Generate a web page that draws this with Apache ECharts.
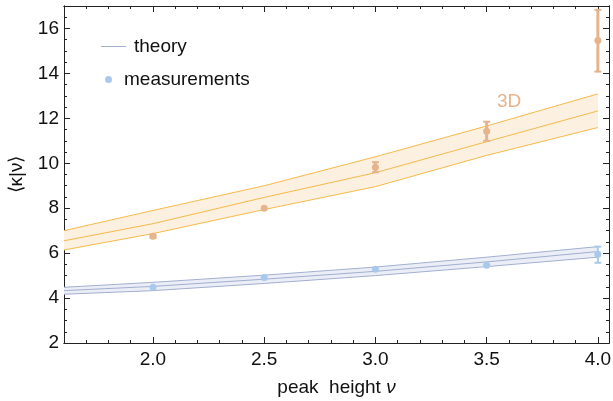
<!DOCTYPE html>
<html>
<head>
<meta charset="utf-8">
<script src="https://cdn.jsdelivr.net/npm/echarts@6/dist/echarts.min.js"></script>
<style>html,body{margin:0;padding:0;background:#fff}</style>
</head>
<body>
<div id="chart" style="width:613px;height:401px"></div>
<script>
// theory bands (x, lower / centre / upper)
const bandX = [1.6, 2.0, 2.5, 3.0, 3.5, 4.0]
const orangeLower = [6.14, 6.87, 7.94, 8.96, 10.35, 11.59]
const orangeCenter = [6.55, 7.31, 8.48, 9.58, 10.96, 12.33]
const orangeUpper = [7.0, 7.9, 9.0, 10.29, 11.66, 13.09]
const blueLower = [4.17, 4.33, 4.65, 5.0, 5.4, 5.82]
const blueCenter = [4.33, 4.52, 4.84, 5.19, 5.61, 6.07]
const blueUpper = [4.48, 4.7, 5.02, 5.38, 5.82, 6.29]

// measurements
const measX = [2.0, 2.5, 3.0, 3.5, 4.0]
const orangeMeas = [6.75, 8.0, 9.82, 11.43, 15.46]
const blueMeas = [4.48, 4.91, 5.28, 5.46, 5.95]
// error bars [x, low, high]
const orangeErr = [[2.0, 6.68, 6.82], [3.0, 9.6, 10.05], [3.5, 11.0, 11.85], [4.0, 14.08, 16.83]]
const blueErr = [[4.0, 5.57, 6.29]]

// ticks
const xMajor = [2.0, 2.5, 3.0, 3.5, 4.0]
const xMinor = [1.7, 1.8, 1.9, 2.1, 2.2, 2.3, 2.4, 2.6, 2.7, 2.8, 2.9, 3.1, 3.2, 3.3, 3.4, 3.6, 3.7, 3.8, 3.9]
const yMajor = [2, 4, 6, 8, 10, 12, 14, 16]
const yMinor = [2.5, 3, 3.5, 4.5, 5, 5.5, 6.5, 7, 7.5, 8.5, 9, 9.5, 10.5, 11, 11.5, 12.5, 13, 13.5, 14.5, 15, 15.5, 16.5]

const ORANGE_LINE = '#f6b94a'
const ORANGE_FILL = '#fcf1e0'
const ORANGE_DOT = '#e5b48d'
const BLUE_LINE = '#a3afd0'
const BLUE_FILL = '#ebeef7'
const BLUE_DOT = '#a8c9ec'
const FONT = 'Liberation Sans, Arial, sans-serif'

const zip = (xs, ys) => xs.map((x, i) => [x, ys[i]])

const chart = echarts.init(document.getElementById('chart'))

const xBase = { type: 'value', min: 1.6, max: 4.05, splitLine: { show: false } }
const yBase = { type: 'value', min: 2, max: 17, splitLine: { show: false } }

const makeX = (position, values, len, labels) => ({
  ...xBase,
  position,
  axisLine: { show: true, lineStyle: { color: '#222', width: 1 } },
  axisTick: { show: true, inside: true, length: len, customValues: values, lineStyle: { color: '#222' } },
  axisLabel: labels
    ? { show: true, customValues: values, margin: 7, color: '#111', fontSize: 19, fontFamily: FONT, formatter: v => v.toFixed(1) }
    : { show: false }
})
const makeY = (position, values, len, labels) => ({
  ...yBase,
  position,
  axisLine: { show: true, lineStyle: { color: '#222', width: 1 } },
  axisTick: { show: true, inside: true, length: len, customValues: values, lineStyle: { color: '#222' } },
  axisLabel: labels
    ? { show: true, customValues: values, margin: 5, color: '#111', fontSize: 19, fontFamily: FONT }
    : { show: false }
})

const xAxes = [
  {
    ...makeX('bottom', xMajor, 6, true),
    name: '{a|peak  height }{b|ν}',
    nameLocation: 'middle',
    nameGap: 35,
    nameTextStyle: {
      rich: {
        a: { fontSize: 19, fontFamily: FONT, color: '#111' },
        b: { fontSize: 19, fontFamily: FONT, color: '#111', fontStyle: 'italic' }
      }
    }
  },
  makeX('bottom', xMinor, 3, false),
  makeX('top', xMajor, 6, false),
  makeX('top', xMinor, 3, false)
]
const yAxes = [
  {
    ...makeY('left', yMajor, 6, true),
    name: '⟨κ|ν⟩',
    nameLocation: 'middle',
    nameGap: 38,
    nameRotate: 90,
    nameTextStyle: { fontSize: 19, fontFamily: FONT, color: '#111' }
  },
  makeY('left', yMinor, 3, false),
  makeY('right', yMajor, 6, false),
  makeY('right', yMinor, 3, false)
]

// shaded band between lower and upper, drawn as one polygon
const bandFill = (lower, upper, fillColor) => ({
  type: 'custom',
  silent: true,
  z: 1,
  data: bandX.map((x, i) => [x, lower[i], upper[i]]),
  encode: { x: 0, y: [1, 2] },
  renderItem: (params, api) => {
    if (params.dataIndex !== 0) return null
    const top = bandX.map((x, i) => api.coord([x, upper[i]]))
    const bottom = bandX.map((x, i) => api.coord([x, lower[i]])).reverse()
    return {
      type: 'polygon',
      shape: { points: top.concat(bottom) },
      style: { fill: fillColor, stroke: null }
    }
  }
})

const bandLine = (name, values, color) => ({
  name, type: 'line', data: zip(bandX, values),
  symbol: 'none', silent: true, z: 3,
  itemStyle: { color },
  lineStyle: { color, width: 1 }
})

const errSeries = (data, color, width, cap) => ({
  type: 'custom',
  data,
  z: 4,
  silent: true,
  encode: { x: 0, y: [1, 2] },
  renderItem: (params, api) => {
    const x = api.value(0)
    const lo = api.coord([x, api.value(1)])
    const hi = api.coord([x, api.value(2)])
    const style = { stroke: color, lineWidth: width }
    const capStyle = { stroke: color, lineWidth: 2 }
    return {
      type: 'group',
      children: [
        { type: 'line', shape: { x1: lo[0], y1: lo[1], x2: hi[0], y2: hi[1] }, style },
        { type: 'line', shape: { x1: lo[0] - cap, y1: lo[1], x2: lo[0] + cap, y2: lo[1] }, style: capStyle },
        { type: 'line', shape: { x1: hi[0] - cap, y1: hi[1], x2: hi[0] + cap, y2: hi[1] }, style: capStyle }
      ]
    }
  }
})

const option = {
  animation: false,
  grid: { left: 64, right: 4, top: 6, bottom: 58, containLabel: false, outerBoundsMode: 'none' },
  xAxis: xAxes,
  yAxis: yAxes,
  legend: [
    {
      data: [{ name: 'theory', icon: 'rect' }],
      left: 96, top: 32,
      itemWidth: 25, itemHeight: 1,
      textStyle: { fontSize: 19, fontFamily: FONT, color: '#111', padding: [0, 0, 0, 3] }
    },
    {
      data: [{ name: 'measurements', icon: 'circle' }],
      left: 100, top: 65,
      itemWidth: 7, itemHeight: 7,
      textStyle: { fontSize: 19, fontFamily: FONT, color: '#111', padding: [0, 0, 0, 7] }
    }
  ],
  graphic: [
    {
      type: 'text', left: 497, top: 92,
      style: { text: '3D', fontSize: 19, fontFamily: FONT, fill: ORANGE_DOT }
    }
  ],
  series: [
    bandFill(orangeLower, orangeUpper, ORANGE_FILL),
    bandLine('orange-lower', orangeLower, ORANGE_LINE),
    bandLine('orange-center', orangeCenter, ORANGE_LINE),
    bandLine('orange-upper', orangeUpper, ORANGE_LINE),
    bandFill(blueLower, blueUpper, BLUE_FILL),
    bandLine('blue-lower', blueLower, BLUE_LINE),
    bandLine('theory', blueCenter, BLUE_LINE),
    bandLine('blue-upper', blueUpper, BLUE_LINE),
    errSeries(orangeErr, ORANGE_DOT, 3, 3.5),
    errSeries(blueErr, BLUE_DOT, 2, 3.5),
    {
      name: 'orange-meas', type: 'scatter', data: zip(measX, orangeMeas),
      symbolSize: 7, z: 5, itemStyle: { color: ORANGE_DOT, opacity: 1 }
    },
    {
      name: 'measurements', type: 'scatter', data: zip(measX, blueMeas),
      symbolSize: 7, z: 5, itemStyle: { color: BLUE_DOT, opacity: 1 }
    }
  ]
}

chart.setOption(option)

window.addEventListener('resize', () => {
  chart.resize()
})
</script>
</body>
</html>
